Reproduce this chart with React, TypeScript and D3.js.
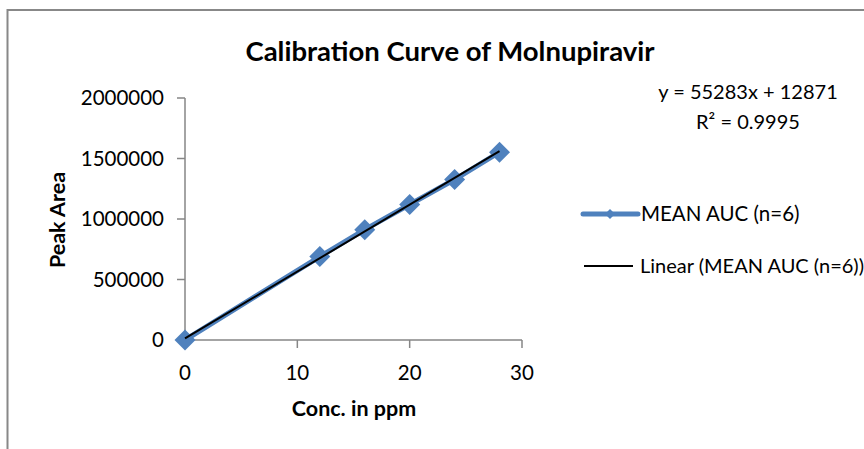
import * as React from "react";
import * as d3 from "d3";

const conc = [0, 12, 16, 20, 24, 28];
const meanAuc = [0, 690000, 912000, 1120000, 1326000, 1552000];
const xTicks = [0, 10, 20, 30];
const yTicks = [0, 500000, 1000000, 1500000, 2000000];
const slope = 55283;
const intercept = 12871;
const rSquared = "0.9995";

const W = 864;
const H = 449;
const FONT = "Lato, 'Open Sans', sans-serif";
const BLUE = "#4F81BD";
const GREY = "#868686";

const App: React.FunctionComponent = () => {
  const x = d3.scaleLinear().domain([0, 30]).range([185, 522]);
  const y = d3.scaleLinear().domain([0, 2000000]).range([340, 98]);

  const pts = conc.map((c, i) => [c, meanAuc[i]] as [number, number]);
  const line = d3
    .line<[number, number]>()
    .x(d => x(d[0]))
    .y(d => y(d[1]));

  // trendline over the data range, from the fitted equation
  const xMin = d3.min(conc) as number;
  const xMax = d3.max(conc) as number;
  const trend: [number, number][] = [
    [xMin, slope * xMin + intercept],
    [xMax, slope * xMax + intercept]
  ];

  const diamond = (cx: number, cy: number, r: number) =>
    `M${cx},${cy - r}L${cx + r},${cy}L${cx},${cy + r}L${cx - r},${cy}Z`;

  return (
    <svg
      width={W}
      height={H}
      style={{ position: "absolute", left: 0, top: 0, background: "#fff" }}
      fontFamily={FONT}
    >
      <rect x={0} y={0} width={W} height={H} fill="#fff" />
      <path d={`M7.5,${H + 2}V10H${W + 2}`} fill="none" stroke="#888" strokeWidth={2} />

      <text x={450} y={61} textAnchor="middle" fontSize={27.5} fontWeight="bold">
        Calibration Curve of Molnupiravir
      </text>

      {/* axes */}
      <line x1={x(0)} x2={x(0)} y1={y(2000000)} y2={y(0)} stroke={GREY} strokeWidth={1.5} />
      <line x1={x(0)} x2={x(30)} y1={y(0)} y2={y(0)} stroke={GREY} strokeWidth={1.5} />
      {yTicks.map(t => (
        <g key={"y" + t}>
          <line x1={x(0) - 8} x2={x(0)} y1={y(t)} y2={y(t)} stroke={GREY} strokeWidth={1.5} />
          <text x={164} y={y(t)} dy="0.36em" textAnchor="end" fontSize={20.5}>
            {t}
          </text>
        </g>
      ))}
      {xTicks.map(t => (
        <g key={"x" + t}>
          <line x1={x(t)} x2={x(t)} y1={y(0)} y2={y(0) + 8} stroke={GREY} strokeWidth={1.5} />
          <text x={x(t)} y={380} textAnchor="middle" fontSize={20.5}>
            {t}
          </text>
        </g>
      ))}

      <text x={354} y={416} textAnchor="middle" fontSize={21.5} fontWeight="bold">
        Conc. in ppm
      </text>
      <text
        transform="translate(65,220) rotate(-90)"
        textAnchor="middle"
        fontSize={21.5}
        fontWeight="bold"
      >
        Peak Area
      </text>

      {/* series */}
      <path d={line(pts) || ""} fill="none" stroke={BLUE} strokeWidth={5} />
      {pts.map((d, i) => (
        <path key={i} d={diamond(x(d[0]), y(d[1]), 10.5)} fill={BLUE} />
      ))}
      <path d={line(trend) || ""} fill="none" stroke="#000" strokeWidth={2} />

      {/* equation */}
      <text x={748} y={99} textAnchor="middle" fontSize={20}>
        y = {slope}x + {intercept}
      </text>
      <text x={748} y={129} textAnchor="middle" fontSize={20}>
        R² = {rSquared}
      </text>

      {/* legend */}
      <line x1={583} x2={638} y1={214} y2={214} stroke={BLUE} strokeWidth={5} strokeLinecap="round" />
      <path d={diamond(610, 214, 5)} fill={BLUE} />
      <text x={641} y={214} dy="0.36em" fontSize={20.5}>
        MEAN AUC (n=6)
      </text>
      <line x1={584} x2={633} y1={266} y2={266} stroke="#000" strokeWidth={2} />
      <text x={640} y={266} dy="0.36em" fontSize={20}>
        Linear (MEAN AUC (n=6))
      </text>
    </svg>
  );
};

export default App;
